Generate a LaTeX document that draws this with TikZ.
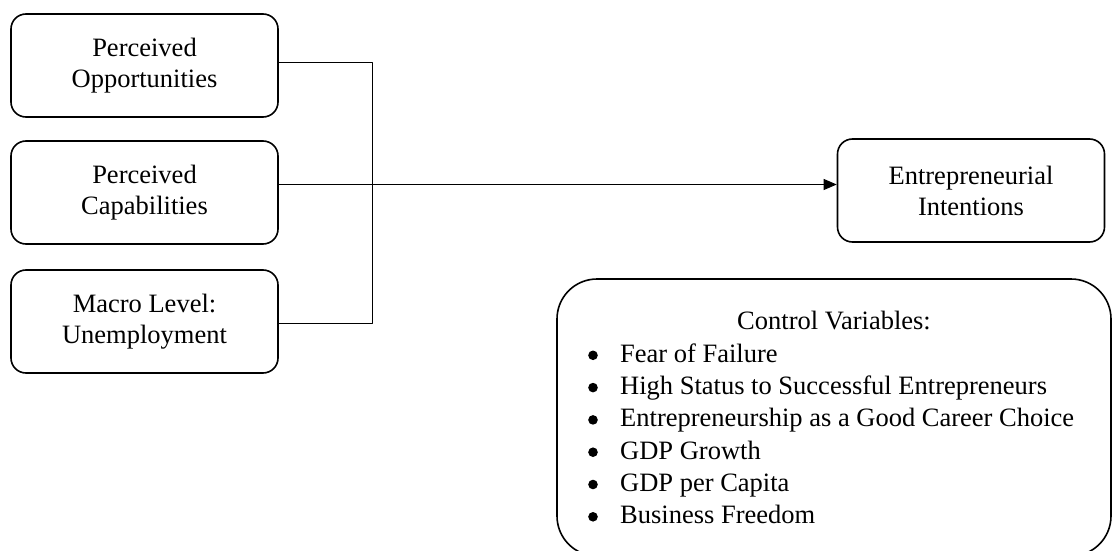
\documentclass[tikz,border=0pt]{standalone}
\usepackage{fontspec}
\setmainfont{Liberation Serif}
\usetikzlibrary{arrows.meta}
\begin{document}
\begin{tikzpicture}[line cap=round,line join=round,>={Triangle[length=13pt,width=11pt]},x=1pt,y=-1pt,
	font=\fontsize{26.5}{31}\selectfont,
	varbox/.style={draw,line width=1.6pt,rounded corners=15pt,minimum width=267pt,minimum height=103pt,align=center,inner sep=0pt},
	ctrlbox/.style={draw,line width=1.6pt,rounded corners=40pt,minimum width=554pt,minimum height=277pt,inner sep=0pt},
	link/.style={line width=0.9pt},
	item/.style={anchor=base west,inner sep=0pt}]
			\useasboundingbox (0,0) rectangle (1112,551);
			\clip (0,0) rectangle (1112,551);
			% predictors on the left
			\node[varbox] (po) at (144.5,65.5) {Perceived\\Opportunities};
			\node[varbox] (pc) at (144.5,192.5) {Perceived\\Capabilities};
			\node[varbox] (mu) at (144.5,321.5) {Macro Level:\\Unemployment};
			% outcome
			\node[varbox] (ei) at (971,190.5) {Entrepreneurial\\Intentions};
			% bracket joining the three predictors
			\coordinate (jtop) at (372,62);
			\coordinate (jbot) at (372,323);
			\draw[link] ([yshift=3.5pt]po.east) -- (jtop) -- (jbot) -- ([yshift=-1.5pt]mu.east);
			\draw[link,->] ([yshift=8pt]pc.east) -- ([yshift=6pt]ei.west);
			% control variables
			\node[ctrlbox] (cv) at (834,417.5) {};
			\node[anchor=base,inner sep=0pt] (cvt) at ([yshift=-51pt]cv.north) {Control Variables:};
			\foreach \t [count=\i] in {Fear of Failure,High Status to Successful Entrepreneurs,Entrepreneurship as a Good Career Choice,GDP Growth,GDP per Capita,Business Freedom}{
				\fill (593,323+32.3*\i) circle[radius=4.8pt];
				\node[item] (cv\i) at (620,330+32.3*\i) {\t};
			}
	\end{tikzpicture}
\end{document}
